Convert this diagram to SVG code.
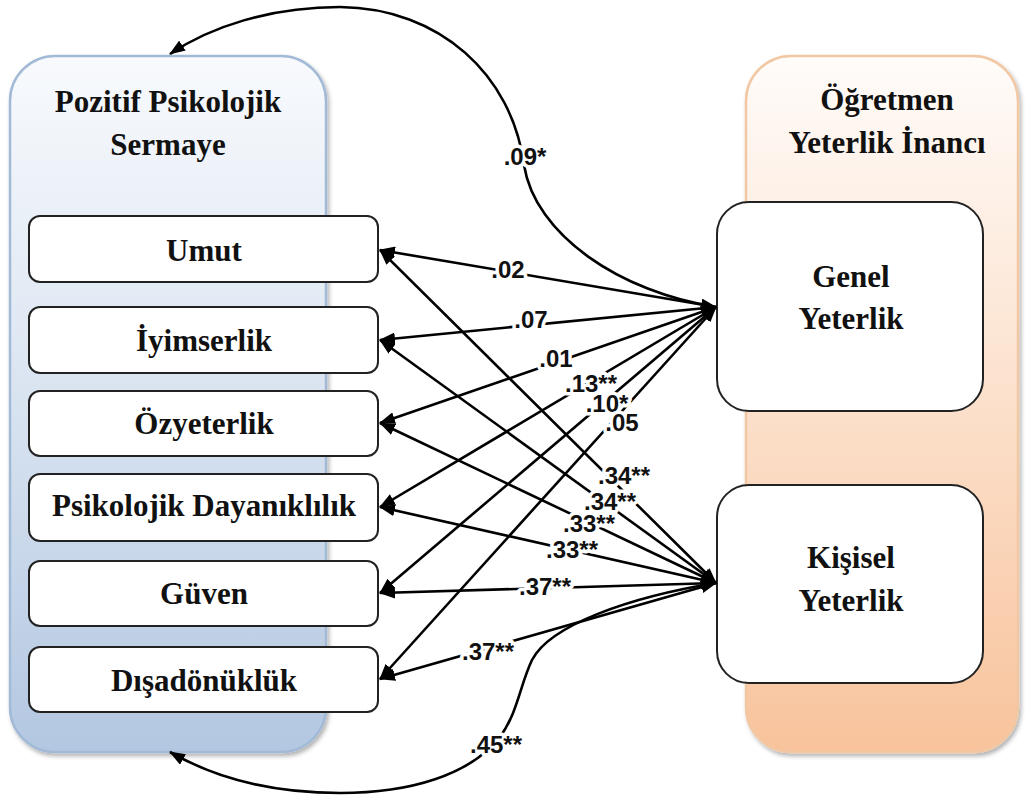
<svg xmlns="http://www.w3.org/2000/svg" width="1025" height="801" viewBox="0 0 1025 801">
<defs>
<linearGradient id="gBlue" x1="0" y1="0" x2="0" y2="1">
<stop offset="0" stop-color="#F8FAFD"/>
<stop offset="0.45" stop-color="#DCE6F2"/>
<stop offset="1" stop-color="#B3C7E1"/>
</linearGradient>
<linearGradient id="gPeach" x1="0" y1="0" x2="0" y2="1">
<stop offset="0" stop-color="#FFFCFA"/>
<stop offset="0.45" stop-color="#FCE3D0"/>
<stop offset="1" stop-color="#F8C39C"/>
</linearGradient>
<filter id="shadow" x="-5%" y="-5%" width="115%" height="115%">
<feDropShadow dx="2" dy="3" stdDeviation="2" flood-color="#000" flood-opacity="0.3"/>
</filter>
<marker id="ah" viewBox="0 0 16 12" refX="15" refY="6" markerWidth="16" markerHeight="12" markerUnits="userSpaceOnUse" orient="auto-start-reverse">
<path d="M0,0 L16,6 L0,12 z" fill="#000"/>
</marker>
</defs>
<style>
.title{font-family:"Liberation Serif","Times New Roman",serif;font-weight:bold;font-size:31px;fill:#111;text-anchor:middle}
.item{fill:#fff;stroke:#222;stroke-width:2}
.lbl{font-family:"Liberation Sans",Arial,sans-serif;font-weight:bold;font-size:24px;fill:#111;text-anchor:middle;stroke:#fff;stroke-width:7;paint-order:stroke;stroke-linejoin:round}
.ln{fill:none;stroke:#000;stroke-width:2.6}
</style>
<rect width="1025" height="801" fill="#fff"/>

<g id="pozitif-psikolojik-sermaye">
<rect x="10" y="56" width="316" height="696" rx="45" fill="url(#gBlue)" stroke="#A3BAD6" stroke-width="2.5" filter="url(#shadow)"/>
<text class="title" x="168" y="112">Pozitif Psikolojik</text>
<text class="title" x="168" y="155">Sermaye</text>
</g>

<g id="ogretmen-yeterlik-inanci">
<rect x="746" y="56" width="272" height="696" rx="45" fill="url(#gPeach)" stroke="#F1C8A3" stroke-width="2.5" filter="url(#shadow)"/>
<text class="title" x="887" y="110">Öğretmen</text>
<text class="title" x="887" y="153">Yeterlik İnancı</text>
</g>

<g id="umut"><rect class="item" x="29" y="216" width="349" height="66" rx="11"/><text class="title" x="204" y="261">Umut</text></g>
<g id="iyimserlik"><rect class="item" x="29" y="307" width="349" height="66" rx="11"/><text class="title" x="204" y="351">İyimserlik</text></g>
<g id="ozyeterlik"><rect class="item" x="29" y="391" width="349" height="65" rx="11"/><text class="title" x="204" y="434">Özyeterlik</text></g>
<g id="psikolojik-dayaniklilik"><rect class="item" x="29" y="474" width="349" height="67" rx="11"/><text class="title" x="204" y="516">Psikolojik Dayanıklılık</text></g>
<g id="guven"><rect class="item" x="29" y="561" width="349" height="65" rx="11"/><text class="title" x="204" y="604">Güven</text></g>
<g id="disadonukluk"><rect class="item" x="29" y="647" width="349" height="65" rx="11"/><text class="title" x="204" y="691">Dışadönüklük</text></g>

<g id="genel-yeterlik"><rect class="item" x="717" y="202" width="266" height="209" rx="32"/><text class="title" x="851" y="287">Genel</text><text class="title" x="851" y="329">Yeterlik</text></g>
<g id="kisisel-yeterlik"><rect class="item" x="717" y="485" width="266" height="198" rx="32"/><text class="title" x="851" y="568">Kişisel</text><text class="title" x="851" y="611">Yeterlik</text></g>

<g id="connectors">
<line class="ln" x1="716" y1="307" x2="380" y2="250" marker-start="url(#ah)" marker-end="url(#ah)"/>
<line class="ln" x1="716" y1="307" x2="380" y2="340" marker-start="url(#ah)" marker-end="url(#ah)"/>
<line class="ln" x1="716" y1="307" x2="380" y2="423" marker-start="url(#ah)" marker-end="url(#ah)"/>
<line class="ln" x1="716" y1="307" x2="380" y2="507" marker-start="url(#ah)" marker-end="url(#ah)"/>
<line class="ln" x1="716" y1="307" x2="380" y2="593" marker-start="url(#ah)" marker-end="url(#ah)"/>
<line class="ln" x1="716" y1="307" x2="380" y2="679" marker-start="url(#ah)" marker-end="url(#ah)"/>
<line class="ln" x1="716" y1="583" x2="380" y2="250" marker-start="url(#ah)" marker-end="url(#ah)"/>
<line class="ln" x1="716" y1="583" x2="380" y2="340" marker-start="url(#ah)" marker-end="url(#ah)"/>
<line class="ln" x1="716" y1="583" x2="380" y2="423" marker-start="url(#ah)" marker-end="url(#ah)"/>
<line class="ln" x1="716" y1="583" x2="380" y2="507" marker-start="url(#ah)" marker-end="url(#ah)"/>
<line class="ln" x1="716" y1="583" x2="380" y2="593" marker-start="url(#ah)" marker-end="url(#ah)"/>
<line class="ln" x1="716" y1="583" x2="380" y2="679" marker-start="url(#ah)" marker-end="url(#ah)"/>
<path class="ln" d="M716,307 C620,292 535,235 524,165 C512,75 440,8 340,7 C270,7 210,27 170,54" marker-end="url(#ah)"/>
<path class="ln" d="M716,583 C630,597 550,625 532,660 C520,685 518,712 500,737 C470,775 410,793 340,793 C270,793 215,778 170,752" marker-end="url(#ah)"/>
</g>

<g id="labels">
<text class="lbl" x="525" y="165">.09*</text>
<text class="lbl" x="508" y="278">.02</text>
<text class="lbl" x="531" y="328">.07</text>
<text class="lbl" x="556" y="367">.01</text>
<text class="lbl" x="591" y="392">.13**</text>
<text class="lbl" x="607" y="412">.10*</text>
<text class="lbl" x="622" y="431">.05</text>
<text class="lbl" x="624" y="484">.34**</text>
<text class="lbl" x="610" y="510">.34**</text>
<text class="lbl" x="589" y="532">.33**</text>
<text class="lbl" x="572" y="558">.33**</text>
<text class="lbl" x="545" y="595">.37**</text>
<text class="lbl" x="488" y="660">.37**</text>
<text class="lbl" x="496" y="753">.45**</text>
</g>
</svg>
